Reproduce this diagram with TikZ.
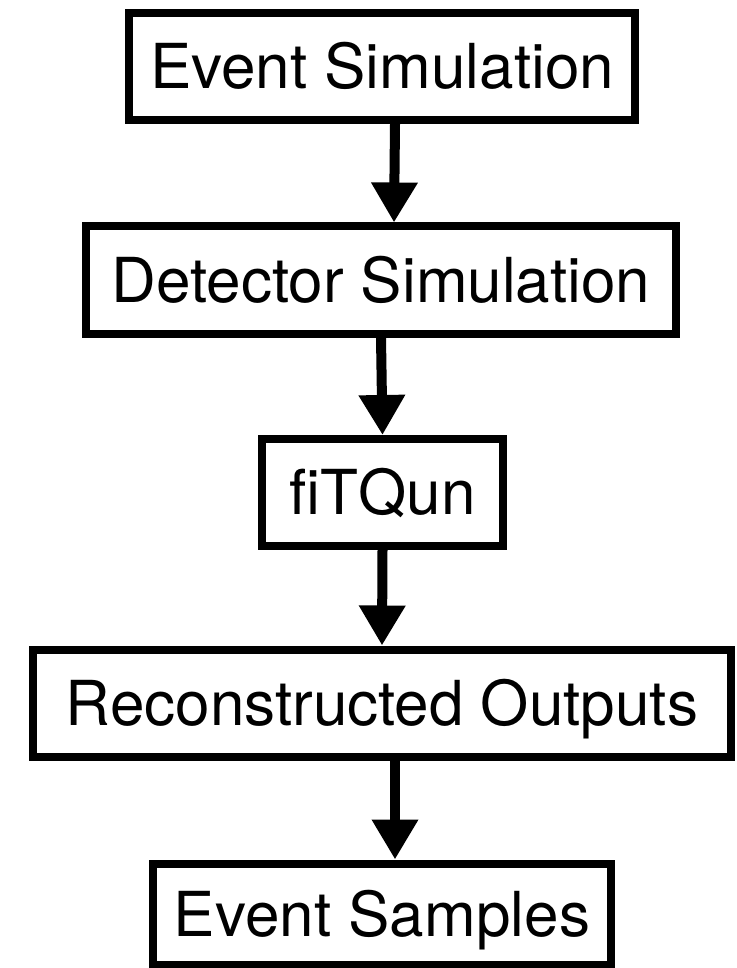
\documentclass[tikz,border=0pt]{standalone}
\usepackage{fontspec}
\setmainfont{TeX Gyre Heros}
\usetikzlibrary{arrows.meta}

\begin{document}
\begin{tikzpicture}[x=1pt, y=-1pt,
  box/.style={draw, line width=8pt, minimum height=107pt, inner sep=0pt,
    text height=44.5pt, text depth=0pt, font=\fontsize{62}{62}\selectfont},
  flow/.style={line width=10pt, -{Triangle[width=44pt,length=40pt]}}]
\useasboundingbox (0,0) rectangle (736,968);%画布

\node[box, minimum width=506pt] (evsim) at (382,66.5) {Event Simulation};
\node[box, minimum width=590pt] (detsim) at (381,280) {Detector Simulation};
\node[box, minimum width=241pt] (fitqun) at (382.5,492.5) {fiTQun};
\node[box, minimum width=698pt] (recout) at (382,703) {Reconstructed Outputs};
\node[box, minimum width=458pt, minimum height=101pt] (evsamp) at (382,914) {Event Samples};

\draw[flow] ([xshift=13pt]evsim.south) -- ([xshift=13pt]detsim.north);%箭头
\draw[flow] (detsim.south) -- (fitqun.north);
\draw[flow] (fitqun.south) -- (recout.north);
\draw[flow] ([xshift=13pt]recout.south) -- ([xshift=13pt]evsamp.north);

\end{tikzpicture}
\end{document}
